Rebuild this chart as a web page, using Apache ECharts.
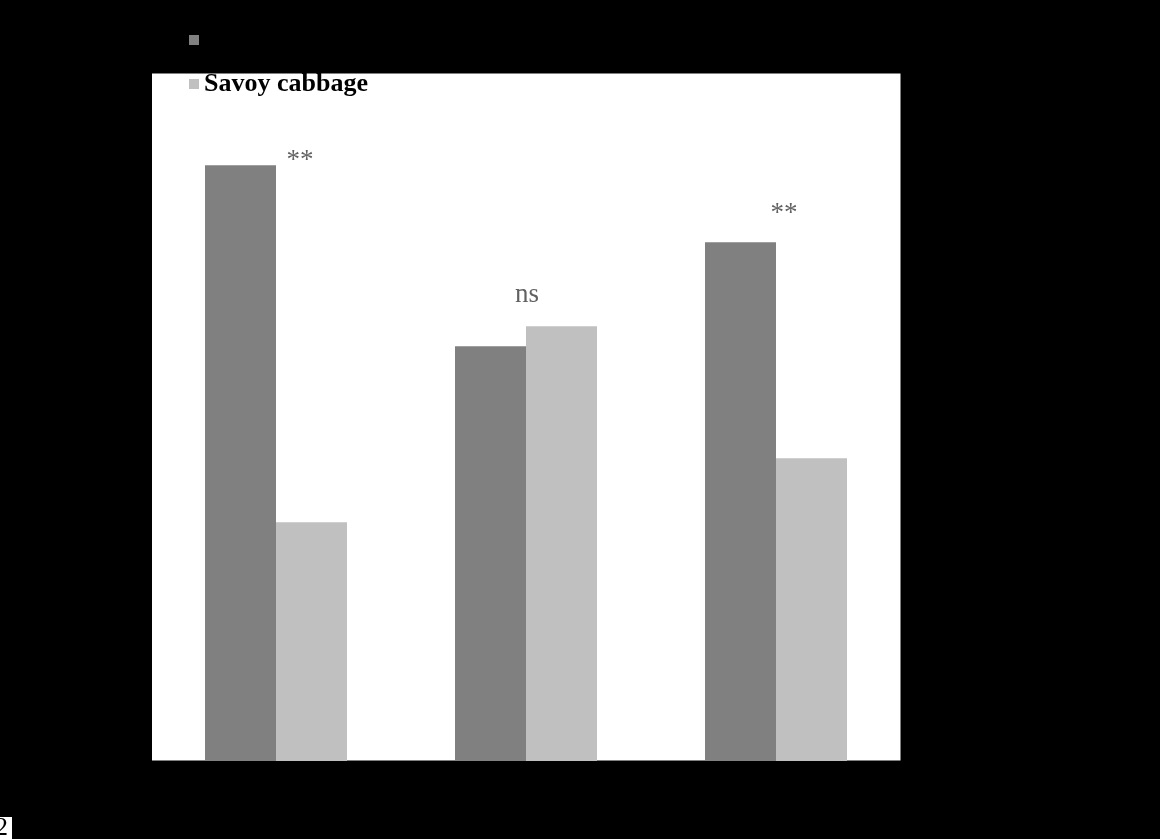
<!DOCTYPE html>
<html>
<head>
<meta charset="utf-8">
<title>Cabbage comparison</title>
<script src="https://cdn.jsdelivr.net/npm/echarts@6/dist/echarts.min.js"></script>
<style>
  html, body { margin: 0; padding: 0; background: #000; }
  #chart { width: 1160px; height: 839px; }
</style>
</head>
<body>
<div id="chart"></div>
<script>
// Categories and series values
const categories = ['Leaves', 'Stems', 'Roots'];
const seriesNames = ['Green cabbage', 'Savoy cabbage'];
const greenValues = [86.6, 60.3, 75.4];
const savoyValues = [34.7, 63.2, 44.0];
const significance = ['**', 'ns', '**'];
const yTicks = [0, 20, 40, 60, 80, 100];

const SERIF = '"Liberation Serif", "DejaVu Serif", serif';

// Annotation anchors sit on the taller bar of each group
const annotationData = categories.map((c, i) => [c, Math.max(greenValues[i], savoyValues[i])]);
// pixel offsets of each annotation relative to its anchor
const annotationOffsets = [[24, -4], [1, -31], [8, -28]];

const chart = echarts.init(document.getElementById('chart'));
chart.setOption({
  backgroundColor: '#000',
  animation: false,
  legend: {
    data: seriesNames,
    orient: 'vertical',
    left: 184,
    top: 22,
    itemWidth: 10,
    itemHeight: 10,
    itemGap: 18,
    icon: 'rect',
    textStyle: { fontFamily: SERIF, fontSize: 26, fontWeight: 'bold', color: '#000' }
  },
  grid: {
    left: 151, top: 73, right: 259, bottom: 78,
    show: true, backgroundColor: '#fff', borderColor: '#000', borderWidth: 1
  },
  xAxis: {
    type: 'category',
    data: categories,
    axisLine: { lineStyle: { color: '#000' } },
    axisTick: { show: false },
    axisLabel: { color: '#000', fontFamily: SERIF, fontSize: 24 }
  },
  yAxis: {
    type: 'value',
    min: yTicks[0],
    max: yTicks[yTicks.length - 1],
    interval: yTicks[1] - yTicks[0],
    splitLine: { show: false },
    axisLine: { show: true, lineStyle: { color: '#000' } },
    axisTick: { show: true, lineStyle: { color: '#000' } },
    axisLabel: { color: '#000', fontFamily: SERIF, fontSize: 24 }
  },
  series: [
    {
      name: seriesNames[0], type: 'bar', data: greenValues,
      barWidth: '28.4%', barGap: '0%',
      itemStyle: { color: '#808080' }
    },
    {
      name: seriesNames[1], type: 'bar', data: savoyValues,
      barWidth: '28.4%', barGap: '0%',
      itemStyle: { color: '#c0c0c0' }
    },
    {
      name: 'significance', type: 'scatter', symbolSize: 0, silent: true,
      data: annotationData.map((d, i) => ({
        value: d,
        label: {
          show: true, position: 'inside', offset: annotationOffsets[i],
          formatter: significance[i],
          fontFamily: SERIF, fontSize: 27, color: '#3a3a3a'
        }
      }))
    }
  ],
  graphic: [
    { type: 'rect', left: 0, top: 817, shape: { width: 12, height: 22 }, style: { fill: '#fff' } },
    { type: 'text', left: -5, top: 815, style: { text: '2', font: '26px ' + SERIF, fill: '#000' } }
  ]
});
</script>
</body>
</html>
